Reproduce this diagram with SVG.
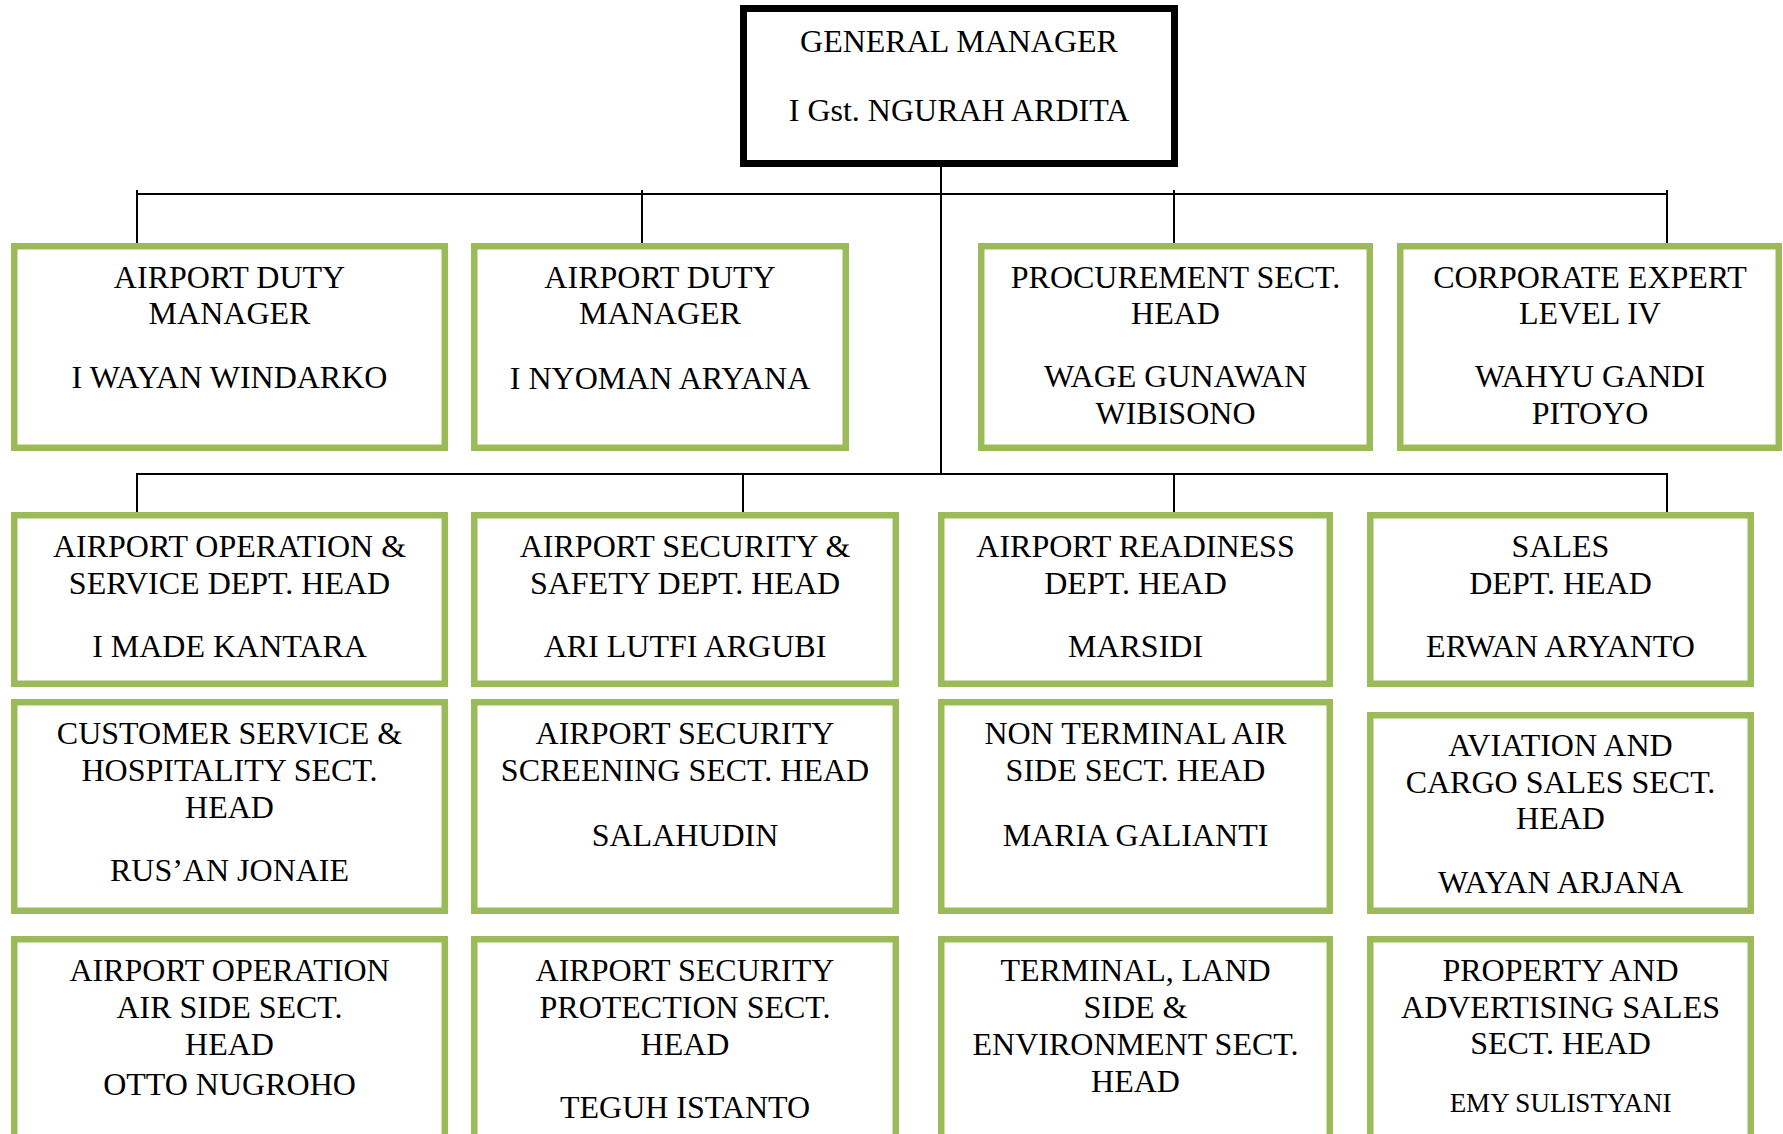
<svg xmlns="http://www.w3.org/2000/svg" width="1783" height="1134" viewBox="0 0 1783 1134">
<style>
  .box { fill: #ffffff; stroke: #9BBB59; stroke-width: 6.5; }
  .gm { fill: #ffffff; stroke: #000000; stroke-width: 7; }
  .t { font-family: "Liberation Serif", "Times New Roman", serif; font-size: 32px; fill: #000000; text-anchor: middle; }
  .s { font-size: 27px; }
  .conn { stroke: #000000; stroke-width: 2; fill: none; }
</style>
<rect x="0" y="0" width="1783" height="1134" fill="#ffffff"/>
<g id="connectors">
  <line class="conn" x1="941" y1="167" x2="941" y2="475"/>
  <line class="conn" x1="137" y1="194" x2="1667" y2="194"/>
  <line class="conn" x1="137" y1="190" x2="137" y2="245"/>
  <line class="conn" x1="642" y1="190" x2="642" y2="245"/>
  <line class="conn" x1="1174" y1="190" x2="1174" y2="245"/>
  <line class="conn" x1="1667" y1="190" x2="1667" y2="245"/>
  <line class="conn" x1="137" y1="474" x2="1667" y2="474"/>
  <line class="conn" x1="137" y1="473" x2="137" y2="514"/>
  <line class="conn" x1="743" y1="473" x2="743" y2="514"/>
  <line class="conn" x1="1174" y1="473" x2="1174" y2="514"/>
  <line class="conn" x1="1667" y1="473" x2="1667" y2="514"/>
</g>
<g id="gm">
  <rect class="gm" x="743.5" y="8.5" width="431" height="155"/>
  <text class="t" x="959" y="52">GENERAL MANAGER</text>
  <text class="t" x="959" y="121">I Gst. NGURAH ARDITA</text>
</g>
<g id="adm1">
  <rect class="box" x="14.25" y="246.25" width="430.5" height="201.5"/>
  <text class="t" x="229.5" y="288">AIRPORT DUTY</text>
  <text class="t" x="229.5" y="324">MANAGER</text>
  <text class="t" x="229.5" y="388">I WAYAN WINDARKO</text>
</g>
<g id="adm2">
  <rect class="box" x="474.25" y="246.25" width="371.5" height="201.5"/>
  <text class="t" x="660" y="288">AIRPORT DUTY</text>
  <text class="t" x="660" y="324">MANAGER</text>
  <text class="t" x="660" y="389">I NYOMAN ARYANA</text>
</g>
<g id="procurement">
  <rect class="box" x="981.25" y="246.25" width="388.5" height="201.5"/>
  <text class="t" x="1175.5" y="288">PROCUREMENT SECT.</text>
  <text class="t" x="1175.5" y="324">HEAD</text>
  <text class="t" x="1175.5" y="387">WAGE GUNAWAN</text>
  <text class="t" x="1175.5" y="424">WIBISONO</text>
</g>
<g id="corporate-expert">
  <rect class="box" x="1400.25" y="246.25" width="378.5" height="201.5"/>
  <text class="t" x="1590" y="288">CORPORATE EXPERT</text>
  <text class="t" x="1590" y="324">LEVEL IV</text>
  <text class="t" x="1590" y="387">WAHYU GANDI</text>
  <text class="t" x="1590" y="424">PITOYO</text>
</g>
<g id="ops-dept">
  <rect class="box" x="14.25" y="515.25" width="430.5" height="168.5"/>
  <text class="t" x="229.5" y="557">AIRPORT OPERATION &amp;</text>
  <text class="t" x="229.5" y="594">SERVICE DEPT. HEAD</text>
  <text class="t" x="229.5" y="657">I MADE KANTARA</text>
</g>
<g id="security-dept">
  <rect class="box" x="474.25" y="515.25" width="421.5" height="168.5"/>
  <text class="t" x="685" y="557">AIRPORT SECURITY &amp;</text>
  <text class="t" x="685" y="594">SAFETY DEPT. HEAD</text>
  <text class="t" x="685" y="657">ARI LUTFI ARGUBI</text>
</g>
<g id="readiness-dept">
  <rect class="box" x="941.25" y="515.25" width="388.5" height="168.5"/>
  <text class="t" x="1135.5" y="557">AIRPORT READINESS</text>
  <text class="t" x="1135.5" y="594">DEPT. HEAD</text>
  <text class="t" x="1135.5" y="657">MARSIDI</text>
</g>
<g id="sales-dept">
  <rect class="box" x="1370.25" y="515.25" width="380.5" height="168.5"/>
  <text class="t" x="1560.5" y="557">SALES</text>
  <text class="t" x="1560.5" y="594">DEPT. HEAD</text>
  <text class="t" x="1560.5" y="657">ERWAN ARYANTO</text>
</g>
<g id="customer-service">
  <rect class="box" x="14.25" y="702.25" width="430.5" height="208.5"/>
  <text class="t" x="229.5" y="744">CUSTOMER SERVICE &amp;</text>
  <text class="t" x="229.5" y="781">HOSPITALITY SECT.</text>
  <text class="t" x="229.5" y="818">HEAD</text>
  <text class="t" x="229.5" y="881">RUS’AN JONAIE</text>
</g>
<g id="screening">
  <rect class="box" x="474.25" y="702.25" width="421.5" height="208.5"/>
  <text class="t" x="685" y="744">AIRPORT SECURITY</text>
  <text class="t" x="685" y="781">SCREENING SECT. HEAD</text>
  <text class="t" x="685" y="846">SALAHUDIN</text>
</g>
<g id="non-terminal">
  <rect class="box" x="941.25" y="702.25" width="388.5" height="208.5"/>
  <text class="t" x="1135.5" y="744">NON TERMINAL AIR</text>
  <text class="t" x="1135.5" y="781">SIDE SECT. HEAD</text>
  <text class="t" x="1135.5" y="846">MARIA GALIANTI</text>
</g>
<g id="aviation-cargo">
  <rect class="box" x="1370.25" y="715.25" width="380.5" height="195.5"/>
  <text class="t" x="1560.5" y="756">AVIATION AND</text>
  <text class="t" x="1560.5" y="793">CARGO SALES SECT.</text>
  <text class="t" x="1560.5" y="829">HEAD</text>
  <text class="t" x="1560.5" y="893">WAYAN ARJANA</text>
</g>
<g id="air-side">
  <rect class="box" x="14.25" y="939.25" width="430.5" height="230"/>
  <text class="t" x="229.5" y="981">AIRPORT OPERATION</text>
  <text class="t" x="229.5" y="1018">AIR SIDE SECT.</text>
  <text class="t" x="229.5" y="1055">HEAD</text>
  <text class="t" x="229.5" y="1095">OTTO NUGROHO</text>
</g>
<g id="protection">
  <rect class="box" x="474.25" y="939.25" width="421.5" height="230"/>
  <text class="t" x="685" y="981">AIRPORT SECURITY</text>
  <text class="t" x="685" y="1018">PROTECTION SECT.</text>
  <text class="t" x="685" y="1055">HEAD</text>
  <text class="t" x="685" y="1118">TEGUH ISTANTO</text>
</g>
<g id="terminal-land">
  <rect class="box" x="941.25" y="939.25" width="388.5" height="230"/>
  <text class="t" x="1135.5" y="981">TERMINAL, LAND</text>
  <text class="t" x="1135.5" y="1018">SIDE &amp;</text>
  <text class="t" x="1135.5" y="1055">ENVIRONMENT SECT.</text>
  <text class="t" x="1135.5" y="1092">HEAD</text>
</g>
<g id="property-advertising">
  <rect class="box" x="1370.25" y="939.25" width="380.5" height="230"/>
  <text class="t" x="1560.5" y="981">PROPERTY AND</text>
  <text class="t" x="1560.5" y="1018">ADVERTISING SALES</text>
  <text class="t" x="1560.5" y="1054">SECT. HEAD</text>
  <text class="t s" x="1560.5" y="1112">EMY SULISTYANI</text>
</g>
</svg>
